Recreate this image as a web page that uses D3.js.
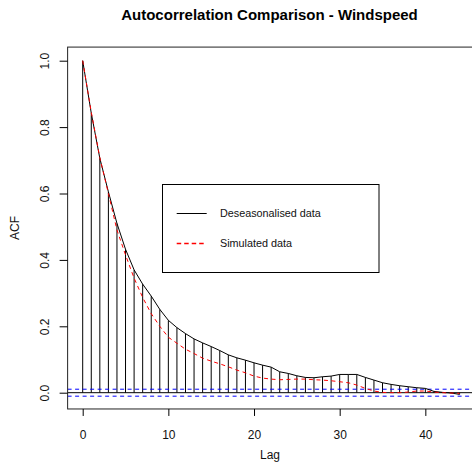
<!DOCTYPE html>
<html>
<head>
<meta charset="utf-8">
<script src="https://cdn.jsdelivr.net/npm/d3@7"></script>
<style>
  body { margin: 0; background: #fff; }
  svg { display: block; font-family: "Liberation Sans", Arial, sans-serif; }
</style>
</head>
<body>
<svg id="chart" width="472" height="476"></svg>
<script>
// lags 0..44
const lags = d3.range(0, 45)
// ACF of the deseasonalised series (bars + solid line)
const acfDeseason = [
  1.0, 0.842, 0.706, 0.605, 0.51, 0.432, 0.370, 0.327, 0.291, 0.251,
  0.218, 0.196, 0.178, 0.162, 0.150, 0.139, 0.127, 0.114, 0.105, 0.098,
  0.090, 0.083, 0.077, 0.063, 0.058, 0.051, 0.046, 0.045, 0.048, 0.050,
  0.055, 0.055, 0.055, 0.046, 0.038, 0.030, 0.025, 0.021, 0.018, 0.015,
  0.013, 0.004, 0.001, -0.001, -0.005
]
// ACF of the simulated series (red dashed)
const acfSimulated = [
  1.0, 0.845, 0.708, 0.600, 0.49, 0.415, 0.345, 0.287, 0.238, 0.200,
  0.167, 0.149, 0.131, 0.118, 0.104, 0.095, 0.087, 0.078, 0.068, 0.060,
  0.050, 0.044, 0.041, 0.039, 0.040, 0.041, 0.041, 0.039, 0.038, 0.036,
  0.033, 0.030, 0.023, 0.013, 0.005, 0.001, 0.000, 0.000, 0.002, 0.005,
  0.005, 0.002, 0.000, -0.001, -0.002
]
const confBound = 0.0105
const xTicks = [0, 10, 20, 30, 40]
const yTicks = [0, 0.2, 0.4, 0.6, 0.8, 1.0]
const legendLabels = ['Deseasonalised data', 'Simulated data']

const svg = d3.select('#chart')

const x = d3.scaleLinear().domain([0, 44]).range([82.7, 459.6])
const y = d3.scaleLinear().domain([0, 1]).range([392.7, 60.7])

const box = { x0: x(-1.76), x1: x(45.76), y0: y(1.041), y1: y(-0.049) }

// clip for things drawn inside the plot region
svg.append('defs').append('clipPath').attr('id', 'plotclip')
  .append('rect')
  .attr('x', box.x0).attr('y', box.y0)
  .attr('width', box.x1 - box.x0).attr('height', box.y1 - box.y0)

const plot = svg.append('g').attr('clip-path', 'url(#plotclip)')

// acf bars
plot.selectAll('.bar')
  .data(lags)
  .enter()
  .append('line')
  .attr('x1', (d) => x(d)).attr('x2', (d) => x(d))
  .attr('y1', y(0)).attr('y2', (d) => y(acfDeseason[d]))
  .attr('stroke', '#000')
  .attr('stroke-width', 1)

// zero line
plot.append('line')
  .attr('x1', box.x0).attr('x2', box.x1)
  .attr('y1', y(0)).attr('y2', y(0))
  .attr('stroke', '#000')

// confidence bounds
plot.selectAll('.ci')
  .data([confBound, -confBound])
  .enter()
  .append('line')
  .attr('x1', box.x0).attr('x2', box.x1)
  .attr('y1', (d) => y(d)).attr('y2', (d) => y(d))
  .attr('stroke', '#0000ff')
  .attr('stroke-dasharray', '4,3.5')

const line = d3.line()
  .x((d) => x(d[0]))
  .y((d) => y(d[1]))

plot.append('path')
  .attr('d', line(lags.map((l) => [l, acfDeseason[l]])))
  .attr('fill', 'none')
  .attr('stroke', '#000')
  .attr('stroke-width', 1)

plot.append('path')
  .attr('d', line(lags.map((l) => [l, acfSimulated[l]])))
  .attr('fill', 'none')
  .attr('stroke', '#ff0000')
  .attr('stroke-width', 1)
  .attr('stroke-dasharray', '4,3.5')

// box
svg.append('rect')
  .attr('x', box.x0).attr('y', box.y0)
  .attr('width', box.x1 - box.x0).attr('height', box.y1 - box.y0)
  .attr('fill', 'none')
  .attr('stroke', '#222')

// x axis
const xAxis = svg.append('g')
  .attr('transform', `translate(0,${box.y1})`)
  .call(d3.axisBottom(x).tickValues(xTicks).tickSize(7).tickPadding(15))
xAxis.select('.domain').remove()
xAxis.selectAll('line').attr('stroke', '#000')
xAxis.selectAll('text')
  .attr('font-size', '12px')
  .attr('font-family', '"Liberation Sans", Arial, sans-serif')
  .attr('fill', '#111')

// y axis, labels rotated like R
const yAxis = svg.append('g')
  .attr('transform', `translate(${box.x0},0)`)
  .call(d3.axisLeft(y).tickValues(yTicks).tickSize(8).tickFormat(d3.format('.1f')))
yAxis.select('.domain').remove()
yAxis.selectAll('line').attr('stroke', '#000')
yAxis.selectAll('text')
  .attr('transform', 'rotate(-90)')
  .attr('x', 0)
  .attr('y', 45 - box.x0)
  .attr('dy', '0.35em')
  .attr('text-anchor', 'middle')
  .attr('font-size', '12px')
  .attr('font-family', '"Liberation Sans", Arial, sans-serif')
  .attr('fill', '#111')

// titles
svg.append('text')
  .attr('x', 269.5).attr('y', 20)
  .attr('text-anchor', 'middle')
  .attr('font-size', '15px')
  .attr('font-weight', 'bold')
  .attr('fill', '#000')
  .text('Autocorrelation Comparison - Windspeed')

svg.append('text')
  .attr('x', 270).attr('y', 459)
  .attr('text-anchor', 'middle')
  .attr('font-size', '12px')
  .attr('fill', '#111')
  .text('Lag')

svg.append('text')
  .attr('transform', `translate(15,${(box.y0 + box.y1) / 2}) rotate(-90)`)
  .attr('dy', '0.35em')
  .attr('text-anchor', 'middle')
  .attr('font-size', '12px')
  .attr('fill', '#111')
  .text('ACF')

// legend
const legend = svg.append('g')
legend.append('rect')
  .attr('x', 162.5).attr('y', 184.5)
  .attr('width', 216.5).attr('height', 88)
  .attr('fill', '#fff')
  .attr('stroke', '#000')

// solid sample
legend.append('line')
  .attr('x1', 176.7).attr('x2', 206.7)
  .attr('y1', 213.5).attr('y2', 213.5)
  .style('stroke', '#000')
  .style('stroke-width', 1)
// dashed sample, drawn as a path
legend.append('path')
  .attr('d', d3.line()([[176.7, 243.5], [206.7, 243.5]]))
  .attr('fill', 'none')
  .attr('stroke', 'rgb(255,0,0)')
  .attr('stroke-width', 1.5)
  .attr('stroke-dasharray', '4.5,3')

legend.selectAll('.label')
  .data(legendLabels)
  .enter()
  .append('text')
  .attr('x', 220)
  .attr('y', (d, i) => 213.5 + i * 30)
  .attr('dy', '0.35em')
  .attr('font-size', '10.8px')
  .attr('fill', '#111')
  .text((d) => d)
</script>
</body>
</html>
